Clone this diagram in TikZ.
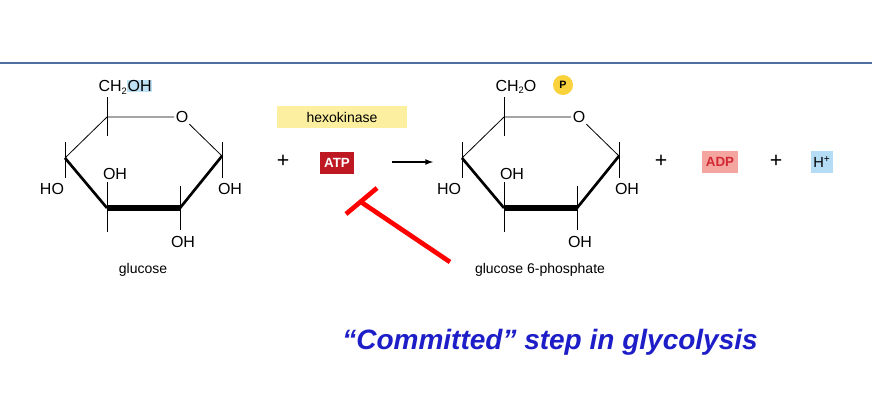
\documentclass[tikz,border=0pt]{standalone}
\usepackage{fontspec}
\setmainfont{Liberation Sans}
\newcommand\sbs[1]{\raisebox{-0.3ex}{\fontsize{7}{8}\selectfont #1}}
\begin{document}
\begin{tikzpicture}[x=0.75pt,y=-0.75pt,
  lbl/.style={font=\fontsize{12}{13}\selectfont,inner sep=1pt},
  bond/.style={line width=0.6pt},
  chip/.style={font=\bfseries\fontsize{10}{11}\selectfont,minimum height=16pt,inner sep=3pt},
  plus/.style={font=\fontsize{16}{16}\selectfont}]
\useasboundingbox (0,0) rectangle (872,408);
\fill[white] (0,0) rectangle (872,408);
\draw[line width=2.2pt,color={rgb,255:red,80;green,110;blue,160}] (0,63) -- (872,63);
\newcommand\myring[2]{%
\begin{scope}[xshift=#1*0.75pt]
\coordinate (#2c5) at (107,117); \node[lbl] (#2o) at (182,117) {O};
\coordinate (#2c1) at (222,156); \coordinate (#2c2) at (180,208);
\coordinate (#2c3) at (107,208); \coordinate (#2c4) at (65,158);
\draw[bond] (#2c5) -- (#2o) -- (#2c1);
\draw[bond] (#2c5) -- (#2c4);
\draw[line width=2pt] (#2c4) -- (#2c3);
\draw[line width=2pt] (#2c1) -- (#2c2);
\draw[line width=4pt] (#2c3) -- (#2c2);
\draw[bond] (107,97) -- (107,136);
\draw[bond] (65,142) -- (65,178);
\draw[bond] (222,142) -- (222,178);
\draw[bond] (107,182) -- (107,232);
\draw[bond] (180,186) -- (180,230);
\node[lbl] (#2oh3) at (115,174) {OH};
\node[lbl] (#2ho4) at (52,189) {HO};
\node[lbl] (#2oh1) at (230,189) {OH};
\node[lbl] (#2oh2) at (183,242) {OH};
\end{scope}}
\myring{0}{a}
\myring{397}{b}
\node[lbl,anchor=west] (cha) at (97,87) {CH\sbs{2}{\setlength{\fboxsep}{0.5pt}\colorbox[RGB]{190,225,245}{OH}}};
\node[font=\fontsize{10.5}{12}\selectfont] (glu) at (143,270) {glucose};
\node[lbl,anchor=west] (chb) at (494,87) {CH\sbs{2}O};
\node[circle,fill={rgb,255:red,250;green,210;blue,60},inner sep=1pt,minimum size=15pt,font=\bfseries\fontsize{8}{9}\selectfont] (pb) at (563,85) {P};
\node[font=\fontsize{10.5}{12}\selectfont] (g6p) at (540,270) {glucose 6-phosphate};
\node[fill={rgb,255:red,252;green,240;blue,160},minimum width=97pt,minimum height=17pt,font=\fontsize{10.5}{12}\selectfont] (hex) at (342,117) {hexokinase};
\node[plus] (p1) at (283,161) {+};
\node[chip,fill={rgb,255:red,190;green,25;blue,35},text=white] (atp) at (337,163) {ATP};
\coordinate (ar1) at (392,162); \coordinate (ar2) at (433,162);
\draw[line width=1pt,-latex] (ar1) -- (ar2);
\coordinate (t1) at (450,262); \coordinate (t2) at (361,202);
\coordinate (b1) at (346,214); \coordinate (b2) at (377,188);
\draw[red,line width=3.5pt] (t1) -- (t2);
\draw[red,line width=3.5pt] (b1) -- (b2);
\node[plus] (p2) at (661,161) {+};
\node[chip,fill={rgb,255:red,245;green,165;blue,160},text={rgb,255:red,210;green,40;blue,50}] (adp) at (720,162) {ADP};
\node[plus] (p3) at (776,161) {+};
\node[fill={rgb,255:red,180;green,220;blue,245},minimum height=17pt,inner sep=2pt,font=\fontsize{11}{12}\selectfont] (hp) at (822,162) {H\textsuperscript{+}};
\node[font=\bfseries\itshape\fontsize{21}{23}\selectfont,text={rgb,255:red,30;green,30;blue,200}] (title) at (550,342) {“Committed” step in glycolysis};
\end{tikzpicture}
\end{document}
